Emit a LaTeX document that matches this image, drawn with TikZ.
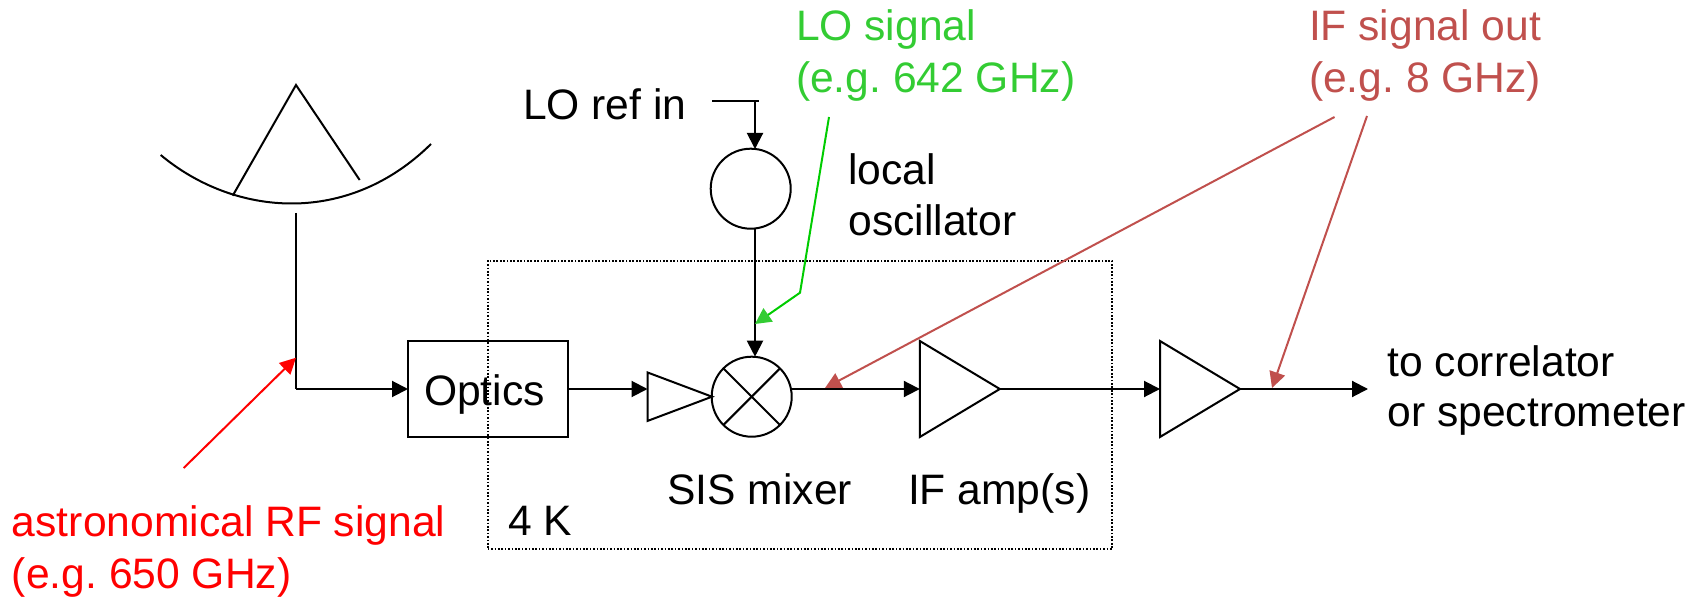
\documentclass[tikz,border=0pt]{standalone}
\usepackage{fontspec,xcolor}
\setmainfont{Liberation Sans}
\usetikzlibrary{arrows.meta, shapes.geometric}
\definecolor{rfred}{RGB}{255,0,0}
\definecolor{logreen}{RGB}{0,204,0}
\definecolor{lotipgreen}{RGB}{51,204,51}
\definecolor{lotext}{RGB}{51,204,51}
\definecolor{ifbrown}{RGB}{192,80,77}
\tikzset{
    wire/.style={line width=2pt,-{Triangle[length=16pt,width=16pt]}},
    plainwire/.style={line width=2pt},
    lbl/.style={anchor=base west,inner sep=0pt,outer sep=0pt,align=left,font=\fontsize{42.6}{51}\selectfont\frenchspacing},
    opamp/.style={draw,line width=2pt,isosceles triangle,isosceles triangle stretches,shape border rotate=0,inner sep=0pt,outer sep=0pt,anchor=apex},
    ring/.style={draw,line width=2pt,circle,minimum size=80pt,inner sep=0pt,outer sep=0pt},
    callout/.style={line width=2pt,-{Triangle[length=16pt,width=16pt]}}
}
\begin{document}
\begin{tikzpicture}[x=1pt,y=-1pt]
            \useasboundingbox (0,0) rectangle (1704,601);
            \node[draw,line width=2pt,dash pattern=on 1.7pt off 1.7pt,minimum width=624.5pt,minimum height=288pt,inner sep=0pt,outer sep=0pt] (coldbox) at (800,405) {};
            \node[draw,line width=2pt,minimum width=160pt,minimum height=96pt,inner sep=0pt,outer sep=0pt] (optics) at (488,389) {};
            \node[ring] (osc) at (750.7,188.7) {};
            \node[ring] (mixer) at (751.7,396.7) {};
            \node[opamp,minimum height=64.5pt,minimum width=48.5pt] (amp1) at (712,396.7) {};
            \node[opamp,minimum height=80pt,minimum width=96pt] (amp2) at (999.8,389) {};
            \node[opamp,minimum height=80pt,minimum width=96pt] (amp3) at (1240,389) {};

            \coordinate (dishl) at (160.7,155);
            \coordinate (dishr) at (431,144);
            \coordinate (apex) at (296,85);
            \coordinate (strutl) at (232.7,195.7);
            \coordinate (strutr) at (359.7,180);
            \coordinate (feedtop) at (296,213);
            \coordinate (feedcorner) at (296,389);
            \coordinate (reftail) at (712,100.7);
            \coordinate (refend) at (759,100.7);
            \coordinate (refdrop) at (755,100.7);
            \coordinate (refhead) at (755,149);
            \coordinate (lotail) at (755,229);
            \coordinate (lohead) at (755,356.7);
            \coordinate (out) at (1368,389);

            \draw[plainwire] (dishl) .. controls (235,217) and (348,226) .. (dishr);
            \draw[plainwire] (strutl) -- (apex) -- (strutr);
            \draw[plainwire] (feedtop) -- (feedcorner);
            \draw[wire] (feedcorner) -- (optics.west);
            \draw[wire] (optics.east) -- (optics.east -| amp1.lower side);
            \draw[plainwire] (reftail) -- (refend);
            \draw[wire] (refdrop) -- (refhead);
            \draw[wire] (lotail) -- (lohead);
            \draw[plainwire] (mixer.45) -- (mixer.225);
            \draw[plainwire] (mixer.135) -- (mixer.315);
            \draw[wire] (amp2.lower side -| mixer.east) -- (amp2.lower side);
            \draw[wire] (amp2.apex) -- (amp3.lower side);
            \draw[wire] (amp3.apex) -- (out);

            \coordinate (rftail) at (183.7,468);
            \coordinate (rfhead) at (296,357.7);
            \coordinate (lotop) at (829,117);
            \coordinate (lobend) at (800,292.7);
            \coordinate (lopoint) at (755,324);
            \coordinate (ifa) at (1334.5,117);
            \coordinate (ifahead) at (825,388);
            \coordinate (ifb) at (1367,116);
            \coordinate (ifbhead) at (1272,388);

            \draw[callout,draw=rfred,fill=rfred] (rftail) -- (rfhead);
            \draw[callout,draw=logreen,-{Triangle[length=16pt,width=16pt,color=lotipgreen]}] (lotop) -- (lobend) -- (lopoint);
            \draw[callout,draw=ifbrown] (ifa) -- (ifahead);
            \draw[callout,draw=ifbrown] (ifb) -- (ifbhead);

            \node[lbl,text=lotext] (lolabel) at (796,93) {LO signal\\[1pt](e.g. 642 GHz)};
            \node[lbl,text=ifbrown] (iflabel) at (1309,93) {IF signal out\\[1pt](e.g. 8 GHz)};
            \node[lbl] (reflabel) at (523,120) {LO ref in};
            \node[lbl] (osclabel) at (848.5,236) {local\\oscillator};
            \node[lbl] (opticslabel) at (424,405) {Optics};
            \node[lbl] (mixlabel) at (667.5,504) {SIS mixer};
            \node[lbl] (ifamplabel) at (908,504) {IF amp(s)};
            \node[lbl] (templabel) at (508,535) {4 K};
            \node[lbl] (outlabel) at (1387.5,426) {to correlator\\[-1pt]or spectrometer};
            \node[lbl,text=rfred] (rflabel) at (12,588) {astronomical RF signal\\[1pt](e.g. 650 GHz)};
        \end{tikzpicture}
\end{document}
